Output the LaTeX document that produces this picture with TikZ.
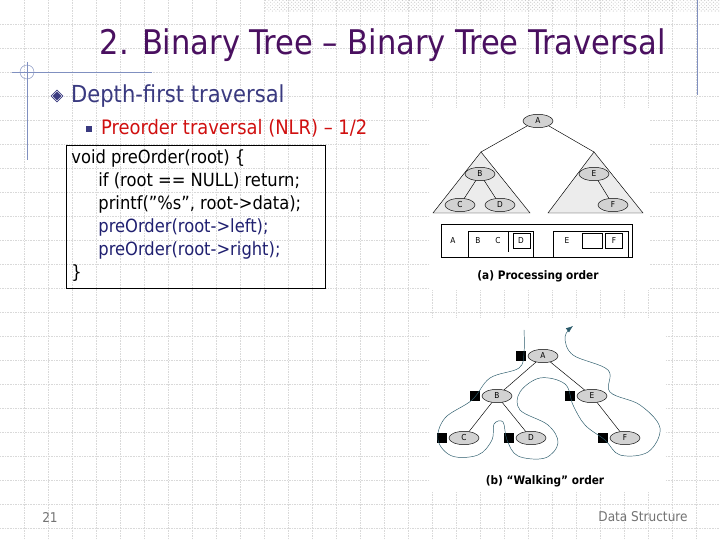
\documentclass[tikz,border=0pt]{standalone}
\usepackage{fontspec}
\setmainfont{DejaVu Sans Condensed}
\usepackage{xcolor}
\usetikzlibrary{shapes.geometric,arrows.meta,patterns,positioning}
\definecolor{titlepurple}{HTML}{4A1060}
\definecolor{bodyblue}{HTML}{3A3A80}
\definecolor{pre}{HTML}{D01010}
\definecolor{codeblue}{HTML}{202070}
\definecolor{frameblue}{HTML}{8090C0}
\definecolor{walkteal}{HTML}{2A5A6A}
\tikzset{
  tnode/.style={ellipse,draw=black,fill=gray!35,minimum width=0.9cm,minimum height=0.4cm,inner sep=0pt,font=\fontsize{7}{7}\selectfont},
  stopbox/.style={fill=black,minimum size=0.3cm,inner sep=0pt},
  lbl/.style={font=\fontsize{7}{8}\selectfont}
}
\begin{document}
\begin{tikzpicture}[x=0.03cm,y=-0.03cm]

% slide background
\useasboundingbox (0,0) rectangle (720,540);
\fill[white](0,0) rectangle (720,540);
\foreach \gx in {24,48,...,696}
  \draw[gray!30,densely dotted](\gx,0)--(\gx,540);
\foreach \gy in {24,48,...,528}
  \draw[gray!30,densely dotted](0,\gy)--(720,\gy);
\fill[pattern=crosshatch dots,pattern color=gray!40](265,0) rectangle (720,12);
\draw[frameblue](697,0)--(697,95);
\draw[frameblue](27,62)--(27,160);
\draw[frameblue](12,72)--(152,72);
\draw[frameblue](27,72) circle (7);

% title and bullets
\node[text=titlepurple,font=\fontsize{29}{32}\selectfont] (title) at (383,45) {2. Binary Tree -- Binary Tree Traversal};
\node[diamond,fill=bodyblue,draw=white,double=bodyblue,minimum size=10pt,inner sep=0pt] (dia) at (57,96) {};
\node[anchor=west,text=bodyblue,font=\fontsize{20}{23}\selectfont] (dft) at (67,96) {Depth-first traversal};
\node[fill=bodyblue,minimum size=5pt,inner sep=0pt] (sq) at (89,129) {};
\node[anchor=west,text=pre,font=\fontsize{17}{19}\selectfont] (nlr) at (97,128) {Preorder traversal (NLR) -- 1/2};

% code box
\draw[black] (66,145) rectangle (325,288);
\begin{scope}[font=\fontsize{15.5}{17}\selectfont]
\node[anchor=west,inner sep=1pt] (c1) at (70,158) {void preOrder(root) \{};
\node[anchor=west,inner sep=1pt] (c2) at (97,181) {if (root == NULL) return;};
\node[anchor=west,inner sep=1pt] (c3) at (97,204) {printf("\%s", root->data);};
\node[anchor=west,inner sep=1pt,text=codeblue] (c4) at (97,227) {preOrder(root->left);};
\node[anchor=west,inner sep=1pt,text=codeblue] (c5) at (97,250) {preOrder(root->right);};
\node[anchor=west,inner sep=1pt] (c6) at (70,273) {\}};
\end{scope}

% (a) processing order
\fill[white](430,108) rectangle (650,290);
\draw[fill=gray!15](481,152)--(433,213)--(530,213)--cycle;
\draw[fill=gray!15](594,152)--(548,213)--(643,213)--cycle;
\node[tnode] (A) at (538,121) {A};
\node[tnode] (B) at (480,174) {B};
\node[tnode] (C) at (460,205) {C};
\node[tnode] (D) at (500,205) {D};
\node[tnode] (E) at (594,174) {E};
\node[tnode] (F) at (613,205) {F};
\draw (A.south west)--(481,152);
\draw (A.south east)--(594,152);
\draw (B)--(C);
\draw (B)--(D);
\draw (E)--(F);
\draw (441,224) rectangle (632,257);
\draw (468,231) rectangle (533,257);
\draw (508,231)--(508,252);
\draw (513,233) rectangle (530,248);
\draw (553,231) rectangle (628,257);
\draw (582,233) rectangle (602,248);
\draw (605,233) rectangle (622,248);
\foreach \t/\px in {A/453,B/478,C/498,D/521,E/567,F/614}
  \node[lbl] (q\t) at (\px,241) {\t};
\node[font=\bfseries\fontsize{10}{12}\selectfont] (capa) at (538,276) {(a) Processing order};

% (b) walking order
\fill[white](430,318) rectangle (665,492);
\node[tnode] (wA) at (543,356) {A};
\node[tnode] (wB) at (497,396) {B};
\node[tnode] (wE) at (592,396) {E};
\node[tnode] (wC) at (464,438) {C};
\node[tnode] (wD) at (531,438) {D};
\node[tnode] (wF) at (625,438) {F};
\draw (wA)--(wB);
\draw (wA)--(wE);
\draw (wB)--(wC);
\draw (wB)--(wD);
\draw (wE)--(wF);
\foreach \n in {A,B,E,C,D,F}
  \node[stopbox,left=1pt of w\n] (s\n) {};
\draw[walkteal,-{Latex[length=6pt]}] plot[smooth,tension=0.6] coordinates {
  (524,330) (524,352) (519,368) (490,378) (472,400) (445,418) (438,440)
  (452,456) (478,455) (492,440) (494,424) (503,422) (507,440) (518,456)
  (545,458) (558,443) (548,425) (520,410) (520,392) (540,378) (565,384)
  (573,405) (585,425) (605,440) (620,455) (648,452) (660,428) (640,405)
  (610,392) (608,370) (573,355) (565,337) (573,326)};
\node[font=\bfseries\fontsize{10}{12}\selectfont] (capb) at (545,481) {(b) ``Walking'' order};

% footer
\node[text=gray!90!black,font=\fontsize{11.5}{13}\selectfont] (pg) at (50,517) {21};
\node[text=gray!90!black,font=\fontsize{11.5}{13}\selectfont] (ds) at (643,517) {Data Structure};

\end{tikzpicture}
\end{document}
